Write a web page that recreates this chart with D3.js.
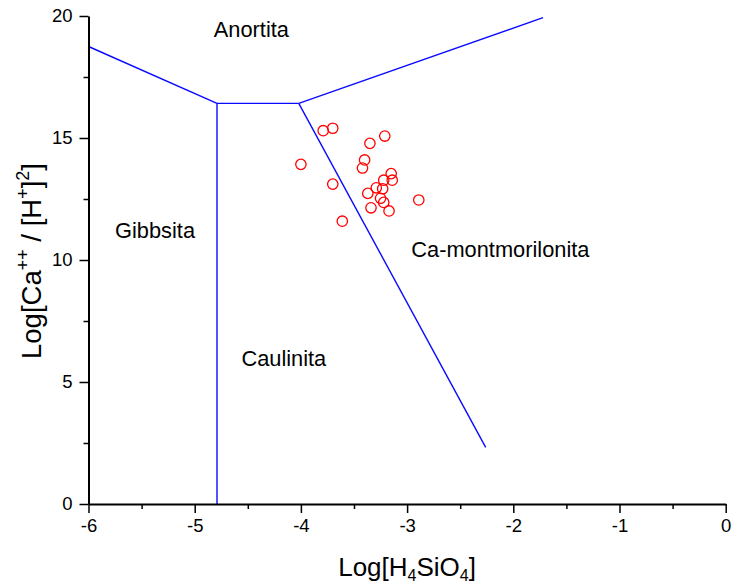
<!DOCTYPE html>
<html>
<head>
<meta charset="utf-8">
<script src="https://cdn.jsdelivr.net/npm/d3@7"></script>
<style>
  body { margin: 0; background: #fff; }
  svg text { font-family: "Liberation Sans", Arial, sans-serif; fill: #000; }
</style>
</head>
<body>
<script>
'use strict';

var width = 732;
var height = 587;
var margin = { top: 16, right: 6.3, bottom: 83, left: 88.5 };

// axis ticks
var xTicks = [-6, -5, -4, -3, -2, -1, 0];
var xMinorTicks = [-5.5, -4.5, -3.5, -2.5, -1.5, -0.5];
var yTicks = [0, 5, 10, 15, 20];
var yMinorTicks = [2.5, 7.5, 12.5, 17.5];

// stability field boundaries (log H4SiO4, log Ca/H2)
var boundAnortitaGibbsita = [[-6, 18.75], [-4.79, 16.42]];
var boundAnortitaCaulinita = [[-4.79, 16.42], [-4.02, 16.42]];
var boundGibbsitaCaulinita = [[-4.79, 16.42], [-4.79, 0]];
var boundAnortitaMontm = [[-4.02, 16.42], [-1.72, 19.93]];
var boundCaulinitaMontm = [[-4.02, 16.42], [-2.26, 2.32]];
var boundaries = [boundAnortitaGibbsita, boundAnortitaCaulinita, boundGibbsitaCaulinita,
  boundAnortitaMontm, boundCaulinitaMontm];

// water samples
var sampleX = [-3.79, -3.70, -3.21, -3.35, -4.00, -3.40, -3.42, -3.70, -3.15, -3.14,
  -3.22, -3.29, -3.23, -3.37, -3.25, -3.22, -2.89, -3.34, -3.17, -3.61];
var sampleY = [15.30, 15.40, 15.08, 14.78, 13.92, 14.10, 13.77, 13.11, 13.54, 13.27,
  13.27, 12.96, 12.92, 12.73, 12.53, 12.36, 12.46, 12.14, 12.01, 11.59];

// field names (left x, baseline y)
var fieldNames = ['Anortita', 'Gibbsita', 'Caulinita', 'Ca-montmorilonita'];
var fieldX = [-4.82, -5.75, -4.56, -2.96];
var fieldY = [19.15, 10.89, 5.64, 10.14];

var svg = d3.select('body').append('svg')
  .attr('width', width)
  .attr('height', height);

var x = d3.scaleLinear().domain([-6, 0]).range([margin.left, width - margin.right]);
var y = d3.scaleLinear().domain([0, 20]).range([height - margin.bottom, margin.top]);

// boundaries
var line = d3.line().x(function(d){ return x(d[0]); }).y(function(d){ return y(d[1]); });
svg.append('g').selectAll('path')
  .data(boundaries)
  .join('path')
  .attr('d', line)
  .attr('fill', 'none')
  .attr('stroke', '#0a0aff')
  .attr('stroke-width', 1.4);

// samples
svg.append('g').selectAll('circle')
  .data(sampleX)
  .join('circle')
  .attr('cx', function(d){ return x(d); })
  .attr('cy', function(d, i){ return y(sampleY[i]); })
  .attr('r', 5.2)
  .attr('fill', 'none')
  .attr('stroke', '#ff0000')
  .attr('stroke-width', 1.3);

// field labels
svg.append('g').selectAll('text')
  .data(fieldNames)
  .join('text')
  .attr('x', function(d, i){ return x(fieldX[i]); })
  .attr('y', function(d, i){ return y(fieldY[i]); })
  .attr('font-size', 21.8)
  .text(function(d){ return d; });

// axes
var styleAxis = function(g){
  g.select('.domain').attr('stroke-width', 2);
  g.selectAll('.tick line').attr('stroke-width', 1.5);
  g.selectAll('.tick text').attr('font-size', 18.5).attr('font-family', '"Liberation Sans", Arial, sans-serif');
};

var gx = svg.append('g')
  .attr('transform', 'translate(0,' + y(0) + ')');
gx.append('g')
  .call(d3.axisBottom(x).tickValues(xMinorTicks).tickSize(5).tickFormat(''))
  .call(function(g){ g.select('.domain').remove(); g.selectAll('.tick line').attr('stroke-width', 1.5); });
gx.append('g')
  .call(d3.axisBottom(x).tickValues(xTicks).tickSize(9).tickSizeOuter(0).tickPadding(6)
    .tickFormat(function(d){ return String(d).replace('\u2212', '-'); }))
  .call(styleAxis);

var gy = svg.append('g')
  .attr('transform', 'translate(' + x(-6) + ',0)');
gy.append('g')
  .call(d3.axisLeft(y).tickValues(yMinorTicks).tickSize(5).tickFormat(''))
  .call(function(g){ g.select('.domain').remove(); g.selectAll('.tick line').attr('stroke-width', 1.5); });
gy.append('g')
  .call(d3.axisLeft(y).tickValues(yTicks).tickSize(9).tickSizeOuter(0).tickPadding(7))
  .call(styleAxis);

// axis titles
var xTitle = svg.append('text')
  .attr('x', (x(-6) + x(0)) / 2)
  .attr('y', 576)
  .attr('text-anchor', 'middle')
  .attr('font-size', 26);
xTitle.append('tspan').text('Log[H');
xTitle.append('tspan').attr('font-size', 16).attr('dy', 5).text('4');
xTitle.append('tspan').attr('dy', -5).text('SiO');
xTitle.append('tspan').attr('font-size', 16).attr('dy', 5).text('4');
xTitle.append('tspan').attr('dy', -5).text(']');

var yTitle = svg.append('text')
  .attr('transform', 'translate(41,' + 261 + ') rotate(-90)')
  .attr('text-anchor', 'middle')
  .attr('font-size', 27.5);
yTitle.append('tspan').text('Log[Ca');
yTitle.append('tspan').attr('font-size', 18).attr('dy', -12).text('++');
yTitle.append('tspan').attr('dy', 12).text(' / [H');
yTitle.append('tspan').attr('font-size', 18).attr('dy', -12).text('+');
yTitle.append('tspan').attr('dy', 12).text(']');
yTitle.append('tspan').attr('font-size', 18).attr('dy', -12).text('2');
yTitle.append('tspan').attr('dy', 12).text(']');
</script>
</body>
</html>
